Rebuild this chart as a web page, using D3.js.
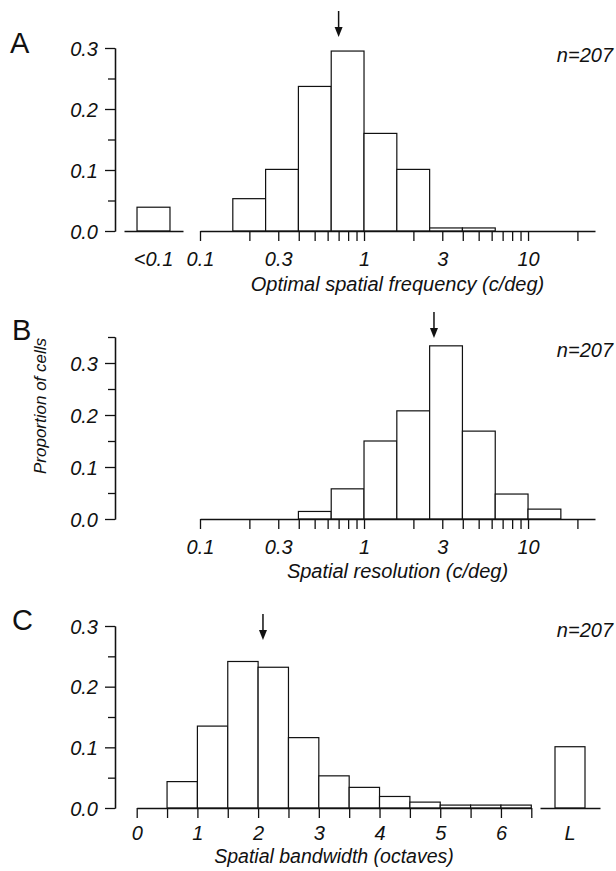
<!DOCTYPE html>
<html><head><meta charset="utf-8">
<script src="https://cdn.jsdelivr.net/npm/d3@7"></script>
<style>body{margin:0;background:#fff}svg{display:block}</style>
</head><body><svg id="c" width="616" height="871"></svg>
<script>
// ---------- data ----------
const sfEdges = [0.1585, 0.2512, 0.3981, 0.6310, 1.0, 1.585, 2.512, 3.981, 6.310];
const sfValues = [0.053, 0.101, 0.237, 0.295, 0.160, 0.101, 0.005, 0.005];
const sfBelowLabel = ["<0.1"];
const sfBelowValue = [0.039];
const sfMedian = 0.70;

const resEdges = [0.3981, 0.6310, 1.0, 1.585, 2.512, 3.981, 6.310, 10.0, 15.85];
const resValues = [0.0145, 0.058, 0.150, 0.208, 0.333, 0.169, 0.048, 0.019];
const resMedian = 2.67;

const bwEdges = [0.5, 1, 1.5, 2, 2.5, 3, 3.5, 4, 4.5, 5, 5.5, 6, 6.5];
const bwValues = [0.0435, 0.135, 0.2415, 0.232, 0.116, 0.053, 0.034, 0.019, 0.0097, 0.0048, 0.0048, 0.0048];
const bwLargeLabel = ["L"];
const bwLargeValue = [0.101];
const bwMedian = 2.08;

const logTickLabels = ["0.1", "0.3", "1", "3", "10"];
const bwTickValues = [0, 0.5, 1, 1.5, 2, 2.5, 3, 3.5, 4, 4.5, 5, 5.5, 6, 6.5];
const bwTickLabels = ["0", "1", "2", "3", "4", "5", "6"];
const yMajor = [0, 0.1, 0.2, 0.3];
const yMinorAC = [0.05, 0.15, 0.25];
const yMinorB = [0.05, 0.15, 0.25, 0.35];
const panelLetters = ["A", "B", "C"];
const xTitles = ["Optimal spatial frequency (c/deg)", "Spatial resolution (c/deg)", "Spatial bandwidth (octaves)"];
const yTitle = "Proportion of cells";
const nLabel = "n=207";

// ---------- drawing ----------
const FONT = "'Liberation Sans', Arial, Helvetica, sans-serif";
const INK = "#111";
const svg = d3.select("#c");

function styleAxis(g) {
  g.selectAll("path,line").attr("stroke", INK).attr("stroke-width", 1.3);
  g.selectAll("text").attr("font-family", FONT).attr("font-style", "italic")
    .attr("font-size", 20).attr("fill", INK);
}

function yAxis(y, minors) {
  const g1 = svg.append("g").attr("transform", "translate(115,0)")
    .call(d3.axisLeft(y).tickValues(yMajor).tickSize(10).tickSizeOuter(0).tickPadding(7).tickFormat(d3.format(".1f")));
  styleAxis(g1);
  g1.selectAll("text").attr("dy", "0.36em");
  const g2 = svg.append("g").attr("transform", "translate(115,0)")
    .call(d3.axisLeft(y).tickValues(minors).tickSize(7).tickSizeOuter(0).tickFormat(""));
  styleAxis(g2);
}

function bars(x, y, edges, values) {
  svg.append("g").selectAll("rect").data(values).join("rect")
    .attr("x", (d, i) => x(edges[i]))
    .attr("width", (d, i) => x(edges[i + 1]) - x(edges[i]))
    .attr("y", d => y(d))
    .attr("height", d => y(0) - y(d))
    .attr("fill", "#fff").attr("stroke", INK).attr("stroke-width", 1.2);
}

function bandBars(xb, y, labels, values) {
  svg.append("g").selectAll("rect").data(values).join("rect")
    .attr("x", (d, i) => xb(labels[i]))
    .attr("width", xb.bandwidth())
    .attr("y", d => y(d))
    .attr("height", d => y(0) - y(d))
    .attr("fill", "#fff").attr("stroke", INK).attr("stroke-width", 1.2);
}

function arrow(xpos, tip) {
  const g = svg.append("g").attr("transform", `translate(${xpos},${tip})`);
  g.append("line").attr("x1", 0).attr("x2", 0).attr("y1", -26).attr("y2", -9)
    .attr("stroke", INK).attr("stroke-width", 1.5);
  g.append("path").attr("d", "M-4,-10L4,-10L0,0Z").attr("fill", INK);
}

function text(x, y, s, opts = {}) {
  return svg.append("text").attr("x", x).attr("y", y).text(s)
    .attr("font-family", FONT).attr("font-size", opts.size || 20)
    .attr("font-style", opts.italic === false ? "normal" : "italic")
    .attr("text-anchor", opts.anchor || "start").attr("fill", INK);
}

function logAxis(x, y0) {
  const ax = d3.axisBottom(x).tickValues(x.ticks()).tickSize(10).tickSizeOuter(0).tickPadding(11)
    .tickFormat(d => {
      const lab = logTickLabels.find(s => Math.abs(+s - d) / d < 1e-6);
      return lab || "";
    });
  const g = svg.append("g").attr("transform", `translate(0,${y0})`).call(ax);
  styleAxis(g);
}

// ----- Panel A -----
{
  const y = d3.scaleLinear().domain([0, 0.3]).range([231, 48]);
  const x = d3.scaleLog().domain([0.1, 25.6]).range([200, 595]);
  const xb = d3.scaleBand().domain(sfBelowLabel).range([124, 183]).padding(0.283);
  bars(x, y, sfEdges, sfValues);
  bandBars(xb, y, sfBelowLabel, sfBelowValue);
  yAxis(y, yMinorAC);
  logAxis(x, 231);
  const gb = svg.append("g").attr("transform", "translate(0,231)")
    .call(d3.axisBottom(xb).tickSize(0).tickSizeOuter(0).tickPadding(21));
  styleAxis(gb);
  arrow(x(sfMedian), 37);
  text(613, 62, nLabel, {anchor: "end"});
  text(10, 53, panelLetters[0], {size: 29, italic: false});
  text(397.5, 291, xTitles[0], {anchor: "middle"});
}

// ----- Panel B -----
{
  const y = d3.scaleLinear().domain([0, 0.35]).range([519, 337]);
  const x = d3.scaleLog().domain([0.1, 25.6]).range([200, 595]);
  bars(x, y, resEdges, resValues);
  yAxis(y, yMinorB);
  logAxis(x, 519);
  arrow(x(resMedian), 338);
  text(613, 357, nLabel, {anchor: "end"});
  text(12, 340, panelLetters[1], {size: 29, italic: false});
  text(397.5, 578, xTitles[1], {anchor: "middle"});
  svg.append("text").attr("transform", "translate(46,406) rotate(-90)")
    .attr("text-anchor", "middle").attr("font-family", FONT).attr("font-style", "italic")
    .attr("font-size", 17).attr("fill", INK).text(yTitle);
}

// ----- Panel C -----
{
  const y = d3.scaleLinear().domain([0, 0.3]).range([808, 626]);
  const x = d3.scaleLinear().domain([0, 6.5]).range([136.7, 531.3]);
  const xb = d3.scaleBand().domain(bwLargeLabel).range([540, 600]).padding(1 / 3);
  bars(x, y, bwEdges, bwValues);
  bandBars(xb, y, bwLargeLabel, bwLargeValue);
  yAxis(y, yMinorAC);
  const g = svg.append("g").attr("transform", "translate(0,808)")
    .call(d3.axisBottom(x).tickValues(bwTickValues).tickSize(10).tickSizeOuter(0).tickPadding(8)
      .tickFormat(d => Number.isInteger(d) ? bwTickLabels[d] : ""));
  styleAxis(g);
  const gb = svg.append("g").attr("transform", "translate(0,808)")
    .call(d3.axisBottom(xb).tickSize(0).tickSizeOuter(0).tickPadding(18));
  styleAxis(gb);
  arrow(x(bwMedian), 640);
  text(613, 637, nLabel, {anchor: "end"});
  text(12, 630, panelLetters[2], {size: 29, italic: false});
  text(334, 862.5, xTitles[2], {anchor: "middle", size: 19.5});
}
</script></body></html>
